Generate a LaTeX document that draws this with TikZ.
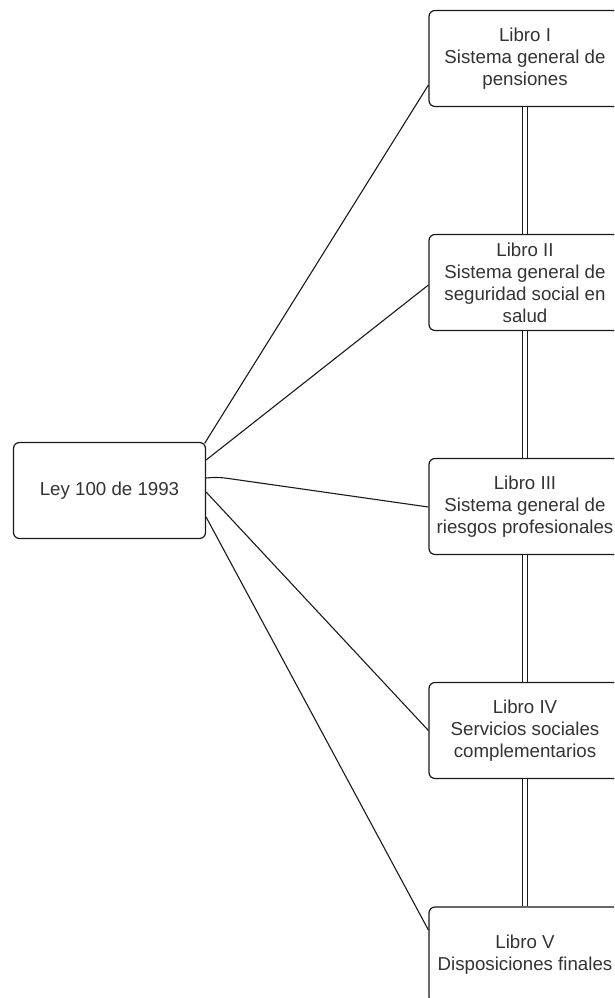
\documentclass[tikz,border=0pt]{standalone}
\usepackage{fontspec}
\setmainfont{Liberation Sans}
\usetikzlibrary{calc}
\definecolor{ink}{HTML}{1A1A1A}
\definecolor{txt}{HTML}{333333}
\tikzset{
  book/.style={draw=ink, line width=1.2pt, rounded corners=6pt, fill=white,
    minimum width=192pt, minimum height=96pt, inner sep=0pt, align=center,
    text=txt, font=\fontsize{18.7}{22}\selectfont},
  link/.style={draw=ink, line width=1.1pt},
  chain/.style={draw=ink, line width=1.1pt, double=white, double distance=4.4pt}
}
\begin{document}
\begin{tikzpicture}[x=1pt, y=-1pt]
\useasboundingbox (0,0) rectangle (614,998);
\clip (0,0) rectangle (614,998);
\fill[white] (0,0) rectangle (614,998);

% central law box
\node[book] (ley) at (109.5,490.5) {Ley 100 de 1993};

% the five books
\node[book] (l1) at (525,58.5)  {Libro I\\Sistema general de\\pensiones};
\node[book] (l2) at (525,282.5) {Libro II\\Sistema general de\\seguridad social en\\salud};
\node[book] (l3) at (525,506.5) {Libro III\\Sistema general de\\riesgos profesionales};
\node[book] (l4) at (525,730.5) {Libro IV\\Servicios sociales\\complementarios};
\node[book] (l5) at (525,955)   {Libro V\\Disposiciones finales};

% double links between consecutive books
\draw[chain] (l1.south) -- (l2.north);
\draw[chain] (l2.south) -- (l3.north);
\draw[chain] (l3.south) -- (l4.north);
\draw[chain] (l4.south) -- (l5.north);

% links from the law to each book
\coordinate (s1) at ($(ley.north east)+(-1.5,1.5)$);
\coordinate (s2) at ($(ley.east)+(0,-30.5)$);
\coordinate (s3) at ($(ley.east)+(0,-12.5)$);
\coordinate (s3b) at ($(ley.east)+(12,-13.5)$);
\coordinate (s4) at ($(ley.east)+(0,1.5)$);
\coordinate (s5) at ($(ley.east)+(0,26.5)$);

\draw[link] (s1) -- ($(l1.west)+(0,26.5)$);
\draw[link] (s2) -- ($(l2.west)+(0,2.5)$);
\draw[link, rounded corners=8pt] (s3) -- (s3b) -- ($(l3.west)+(0,0.5)$);
\draw[link] (s4) -- (l4.west);
\draw[link] (s5) -- ($(l5.west)+(0,-25)$);
\end{tikzpicture}
\end{document}
